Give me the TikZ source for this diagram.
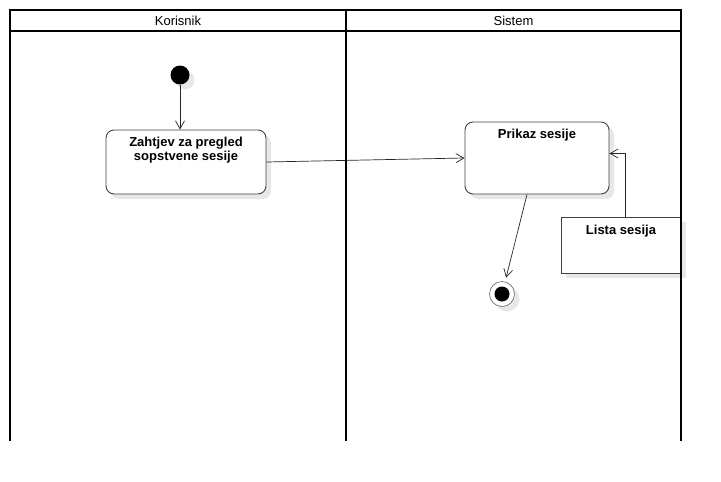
\documentclass[tikz,border=0pt]{standalone}
\usepackage{fontspec}
\setmainfont{Liberation Sans}
\usetikzlibrary{arrows.meta,shadows}

\begin{document}
\begin{tikzpicture}[x=1pt,y=-1pt,
  lane/.style={line width=1.6pt},
  lanetext/.style={font=\fontsize{13}{14}\selectfont},
  shade/.style={drop shadow={shadow xshift=5pt,shadow yshift=-5pt,fill=black!9,opacity=1}},
  action/.style={draw=black!75,line width=0.9pt,rounded corners=8pt,fill=white,shade},
  object/.style={draw=black!75,line width=0.9pt,fill=white,shade},
  acttext/.style={font=\fontsize{13}{14}\selectfont\bfseries,align=center,anchor=north,inner sep=2pt,yshift=-5pt},
  flow/.style={draw=black!85,line width=0.7pt,-{Straight Barb[length=8pt,width=9pt]}}
]
\useasboundingbox (0,0) rectangle (721,482);

% Start
\node[circle,fill=black,minimum size=19pt,inner sep=0pt,shade] (start) at (180,75) {};

% Actions
\node[action,minimum width=160pt,minimum height=64pt] (zahtjev) at (186,162)
  [label={[acttext]north:{Zahtjev za pregled\\sopstvene sesije}}] {};
\node[action,minimum width=144pt,minimum height=72pt] (prikaz) at (537,158)
  [label={[acttext]north:{Prikaz sesije}}] {};

% Object
\node[object,minimum width=120pt,minimum height=56pt] (lista) at (621,245)
  [label={[acttext,yshift=-1pt]north:{Lista sesija}}] {};

% End
\node[circle,draw=black!60,line width=0.6pt,fill=white,minimum size=25pt,inner sep=0pt,shade,
  path picture={\fill[black] (path picture bounding box.center) circle (7.5pt);}] (kraj) at (502,294) {};

% Flows
\draw[flow] (start) -- (start |- zahtjev.north);
\draw[flow] (zahtjev.east) -- (prikaz.west);
\draw[flow] ([xshift=4.5pt]lista.north) |- ([yshift=4.5pt]prikaz.east);
\draw[flow,shorten >=4pt] ([xshift=-10pt]prikaz.south) -- (kraj);

% Swimlanes
\draw[lane] (10,10) rectangle (681,31);
\draw[lane] (10,31) -- (10,441) (346,10) -- (346,441) (681,31) -- (681,441);
\node[lanetext] (korisnik) at (178,20.5) {Korisnik};
\node[lanetext] (sistem) at (513.5,20.5) {Sistem};
\end{tikzpicture}
\end{document}
